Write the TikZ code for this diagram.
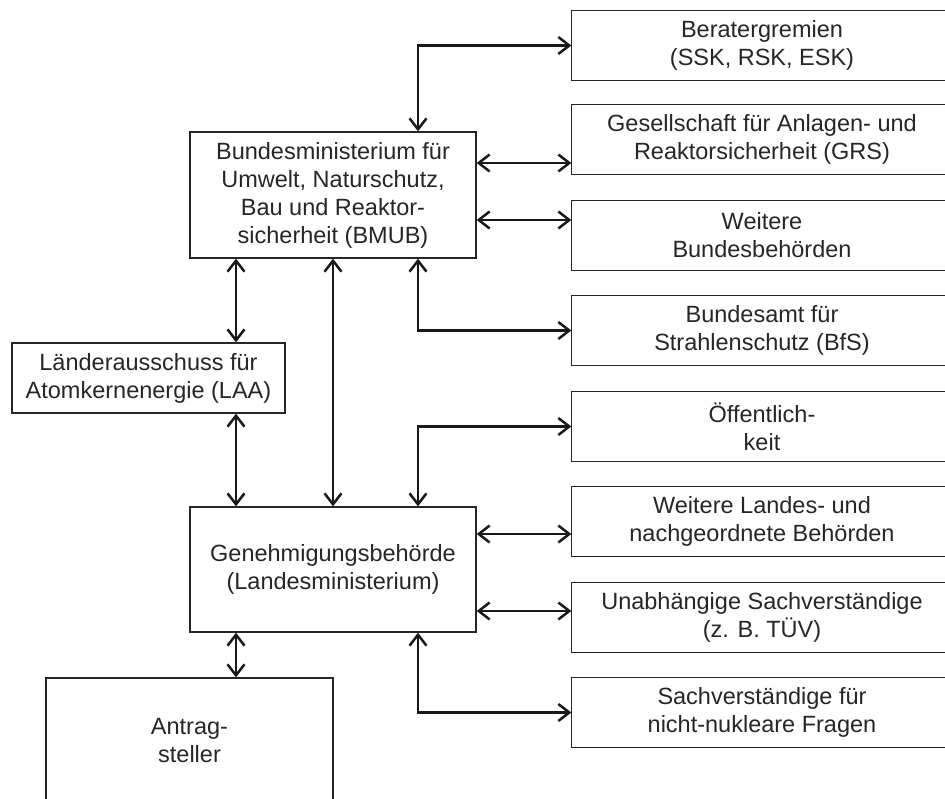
\documentclass[tikz,border=0pt]{standalone}
\usepackage{fontspec}
\setmainfont{Liberation Sans}
\usetikzlibrary{arrows.meta}
\begin{document}
\begin{tikzpicture}[x=1pt,y=-1pt,
  boxline/.style={draw=black!85, line width=1.3pt},
  box/.style={boxline, fill=white, align=center,
    inner sep=0pt, font=\fontsize{23.5}{28}\selectfont, text=black!85},
  rbox/.style={box, draw=none, minimum width=380pt, minimum height=69pt},
  arr/.style={line width=2.5pt, draw=black!90, line cap=butt,
    {Straight Barb[length=11pt,width=17pt,line width=2.5pt]}-{Straight Barb[length=11pt,width=17pt,line width=2.5pt]}}]
\useasboundingbox (0,0) rectangle (945,798);
% left column boxes
\node[box, minimum width=286pt, minimum height=126pt] (bmub) at (333,195)
  {Bundesministerium für\\Umwelt, Naturschutz,\\Bau und Reaktor-\\sicherheit (BMUB)};
\node[box, minimum width=273pt, minimum height=70pt] (laa) at (148.5,378)
  {Länderausschuss für\\Atomkernenergie (LAA)};
\node[box, minimum width=286pt, minimum height=125pt] (gen) at (333,569.5)
  {Genehmigungsbehörde\\(Landesministerium)};
\node[box, minimum width=287pt, minimum height=126pt] (ant) at (189.5,741)
  {Antrag-\\steller};
% right column boxes (cut off at the right edge of the picture)
\node[rbox] (r1) at (762,45.5) {Beratergremien\\(SSK, RSK, ESK)};
\node[rbox] (r2) at (762,139.5) {Gesellschaft für Anlagen- und\\Reaktorsicherheit (GRS)};
\node[rbox] (r3) at (762,235.5) {Weitere\\Bundesbehörden};
\node[rbox] (r4) at (762,330.5) {Bundesamt für\\Strahlenschutz (BfS)};
\node[rbox] (r5) at (762,426.5) {Öffentlich-\\keit};
\node[rbox] (r6) at (762,521.5) {Weitere Landes- und\\nachgeordnete Behörden};
\node[rbox] (r7) at (762,617.5) {Unabhängige Sachverständige\\(z. B. TÜV)};
\node[rbox] (r8) at (762,712.5) {Sachverständige für\\nicht-nukleare Fragen};
\foreach \n in {r1,r2,r3,r4,r5,r6,r7,r8}
  \draw[boxline] (\n.north east) -- (\n.north west) -- (\n.south west) -- (\n.south east);
% helper coordinates
\coordinate (xa) at (236,0);
\coordinate (xb) at (333,0);
\coordinate (xc) at (418,0);
\coordinate (y2) at (0,163);
\coordinate (y3) at (0,220);
\coordinate (y6) at (0,534);
\coordinate (y7) at (0,611);
% BMUB connectors
\draw[arr] (bmub.north -| xc) |- (r1.west);
\draw[arr] (bmub.east |- y2) -- (r2.west |- y2);
\draw[arr] (bmub.east |- y3) -- (r3.west |- y3);
\draw[arr] (bmub.south -| xc) |- (r4.west);
\draw[arr] (bmub.south -| xa) -- (laa.north -| xa);
\draw[arr] (laa.south -| xa) -- (gen.north -| xa);
\draw[arr] (bmub.south -| xb) -- (gen.north -| xb);
% Genehmigung connectors
\draw[arr] (gen.north -| xc) |- (r5.west);
\draw[arr] (gen.east |- y6) -- (r6.west |- y6);
\draw[arr] (gen.east |- y7) -- (r7.west |- y7);
\draw[arr] (gen.south -| xc) |- (r8.west);
\draw[arr] (gen.south -| xa) -- (ant.north -| xa);
\end{tikzpicture}
\end{document}
